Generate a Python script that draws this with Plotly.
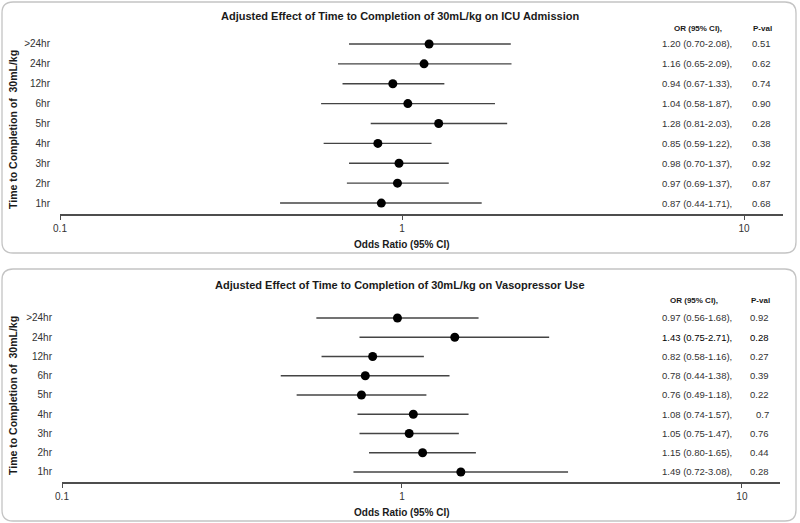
import math
import plotly.graph_objects as go

# ---------------- data ----------------
rows = [">24hr", "24hr", "12hr", "6hr", "5hr", "4hr", "3hr", "2hr", "1hr"]

icu_or = [1.20, 1.16, 0.94, 1.04, 1.28, 0.85, 0.98, 0.97, 0.87]
icu_lo = [0.70, 0.65, 0.67, 0.58, 0.81, 0.59, 0.70, 0.69, 0.44]
icu_hi = [2.08, 2.09, 1.33, 1.87, 2.03, 1.22, 1.37, 1.37, 1.71]
icu_p = ["0.51", "0.62", "0.74", "0.90", "0.28", "0.38", "0.92", "0.87", "0.68"]

vaso_or = [0.97, 1.43, 0.82, 0.78, 0.76, 1.08, 1.05, 1.15, 1.49]
vaso_lo = [0.56, 0.75, 0.58, 0.44, 0.49, 0.74, 0.75, 0.80, 0.72]
vaso_hi = [1.68, 2.71, 1.16, 1.38, 1.18, 1.57, 1.47, 1.65, 3.08]
vaso_p = ["0.92", "0.28", "0.27", "0.39", "0.22", "0.7", "0.76", "0.44", "0.28"]

tick_vals = [0.1, 1, 10]
tick_text = ["0.1", "1", "10"]
ref_value = 1

titles = [
    "Adjusted Effect of Time to Completion of 30mL/kg on ICU Admission",
    "Adjusted Effect of Time to Completion of 30mL/kg on Vasopressor Use",
]
y_title = "Time to Completion of  30mL/kg"
x_title = "Odds Ratio (95% CI)"
hdr_or = "OR (95% CI),"
hdr_p = "P-val"

# ---------------- layout helpers ----------------
W, H = 800, 523
FONT = "Liberation Sans, Arial, sans-serif"


def px(x):
    return x / W


def py(y):
    return 1 - y / H


fig = go.Figure()

panels = [
    dict(data=(icu_or, icu_lo, icu_hi, icu_p), box=(2, 2, 796, 253),
         xdom=(60, 783), xr=(-1, 1.114), ydom=(35, 214), yr=(-0.55, 8.45),
         title_y=16, hdr_y=29, or_right=734, p_right=773,
         hdr_or_c=698, hdr_p_c=762, tick_y=227, xt_y=244, yt_c=130, bold=None),
    dict(data=(vaso_or, vaso_lo, vaso_hi, vaso_p), box=(2, 269, 796, 521),
         xdom=(62, 780), xr=(-1, 1.112), ydom=(309.3, 482), yr=(-0.52, 8.45),
         title_y=285, hdr_y=300, or_right=734, p_right=771,
         hdr_or_c=694, hdr_p_c=760, tick_y=496, xt_y=512, yt_c=396, bold=1),
]

shapes = []
annotations = []
n = len(rows)
cat_order = rows[::-1]

for k, p in enumerate(panels):
    sfx = "" if k == 0 else str(k + 1)
    xa = "x" + sfx
    ya = "y" + sfx
    orv, lo, hi, pv = p["data"]

    fig.add_trace(go.Scatter(
        x=orv, y=rows, xaxis=xa, yaxis=ya, mode="markers",
        marker=dict(color="black", size=9),
        error_x=dict(type="data", symmetric=False,
                     array=[h - o for h, o in zip(hi, orv)],
                     arrayminus=[o - l for o, l in zip(orv, lo)],
                     color="#444444", thickness=1.4, width=0),
        showlegend=False, hoverinfo="skip",
    ))

    xkey = "xaxis" + sfx
    ykey = "yaxis" + sfx
    fig.layout[xkey] = dict(
        type="log", range=list(p["xr"]), domain=[px(p["xdom"][0]), px(p["xdom"][1])],
        anchor=ya, showgrid=False, zeroline=False, showline=True,
        linecolor="#4d4d4d", linewidth=1.5, ticks="outside", ticklen=4,
        tickwidth=1.2, tickcolor="#4d4d4d", tickvals=tick_vals, ticktext=tick_text,
        tickfont=dict(size=10, color="#333333", family=FONT), fixedrange=True,
        automargin=False,
    )
    fig.layout[ykey] = dict(
        type="category", categoryorder="array", categoryarray=cat_order,
        range=list(p["yr"]), domain=[py(p["ydom"][1]), py(p["ydom"][0])],
        anchor=xa, showgrid=False, zeroline=False, showline=False, ticks="",
        ticklabelstandoff=9, tickfont=dict(size=10, color="#333333", family=FONT),
        fixedrange=True, automargin=False,
    )

    # dashed reference line at OR = 1
    shapes.append(dict(type="line", xref=xa, yref=ya,
                       x0=math.log10(ref_value), x1=math.log10(ref_value),
                       y0=p["yr"][0], y1=n - 1 - 0.15,
                       line=dict(color="#222222", width=1.2, dash="dash")))

    # rounded panel border
    x0, y0, x1, y1 = p["box"]
    r = 11
    path = (f"M {px(x0 + r)} {py(y0)} L {px(x1 - r)} {py(y0)} "
            f"Q {px(x1)} {py(y0)} {px(x1)} {py(y0 + r)} "
            f"L {px(x1)} {py(y1 - r)} Q {px(x1)} {py(y1)} {px(x1 - r)} {py(y1)} "
            f"L {px(x0 + r)} {py(y1)} Q {px(x0)} {py(y1)} {px(x0)} {py(y1 - r)} "
            f"L {px(x0)} {py(y0 + r)} Q {px(x0)} {py(y0)} {px(x0 + r)} {py(y0)} Z")
    shapes.append(dict(type="path", xref="paper", yref="paper", path=path,
                       line=dict(color="#c4c4c4", width=1.3), layer="below"))

    # title
    annotations.append(dict(text="<b>" + titles[k] + "</b>", xref="paper", yref="paper",
                            x=px(400), y=py(p["title_y"]), showarrow=False,
                            xanchor="center", yanchor="middle",
                            font=dict(size=11, color="#1a1a1a", family=FONT)))
    # headers
    annotations.append(dict(text="<b>" + hdr_or + "</b>", xref="paper", yref="paper",
                            x=px(p["hdr_or_c"]), y=py(p["hdr_y"]), showarrow=False,
                            xanchor="center", yanchor="middle",
                            font=dict(size=8, color="#1a1a1a", family=FONT)))
    annotations.append(dict(text="<b>" + hdr_p + "</b>", xref="paper", yref="paper",
                            x=px(p["hdr_p_c"]), y=py(p["hdr_y"]), showarrow=False,
                            xanchor="center", yanchor="middle",
                            font=dict(size=8, color="#1a1a1a", family=FONT)))
    # row texts
    for i, lab in enumerate(rows):
        yi = n - 1 - i
        txt = f"{orv[i]:.2f} ({lo[i]:.2f}-{hi[i]:.2f}),"
        col = "#000000" if p["bold"] == i else "#333333"
        annotations.append(dict(text=txt, xref="paper", yref=ya, x=px(p["or_right"]), y=yi,
                                showarrow=False, xanchor="right", yanchor="middle",
                                font=dict(size=9.5, color=col, family=FONT)))
        annotations.append(dict(text=pv[i], xref="paper", yref=ya, x=px(p["p_right"]), y=yi,
                                showarrow=False, xanchor="right", yanchor="middle",
                                font=dict(size=9.5, color=col, family=FONT)))
    # axis titles
    annotations.append(dict(text="<b>" + x_title + "</b>", xref="paper", yref="paper",
                            x=px(402), y=py(p["xt_y"]), showarrow=False,
                            xanchor="center", yanchor="middle",
                            font=dict(size=10, color="#1a1a1a", family=FONT)))
    annotations.append(dict(text="<b>" + y_title + "</b>", xref="paper", yref="paper",
                            x=px(13), y=py(p["yt_c"]), showarrow=False, textangle=-90,
                            xanchor="center", yanchor="middle",
                            font=dict(size=10.5, color="#1a1a1a", family=FONT)))

fig.update_layout(
    width=W, height=H, margin=dict(l=0, r=0, t=0, b=0, pad=0),
    paper_bgcolor="white", plot_bgcolor="white",
    shapes=shapes, annotations=annotations, showlegend=False,
    font=dict(family=FONT),
)

fig.write_html("out.html", config={"displayModeBar": False},
               post_script="document.body.style.margin='0';document.body.style.overflow='hidden';")
